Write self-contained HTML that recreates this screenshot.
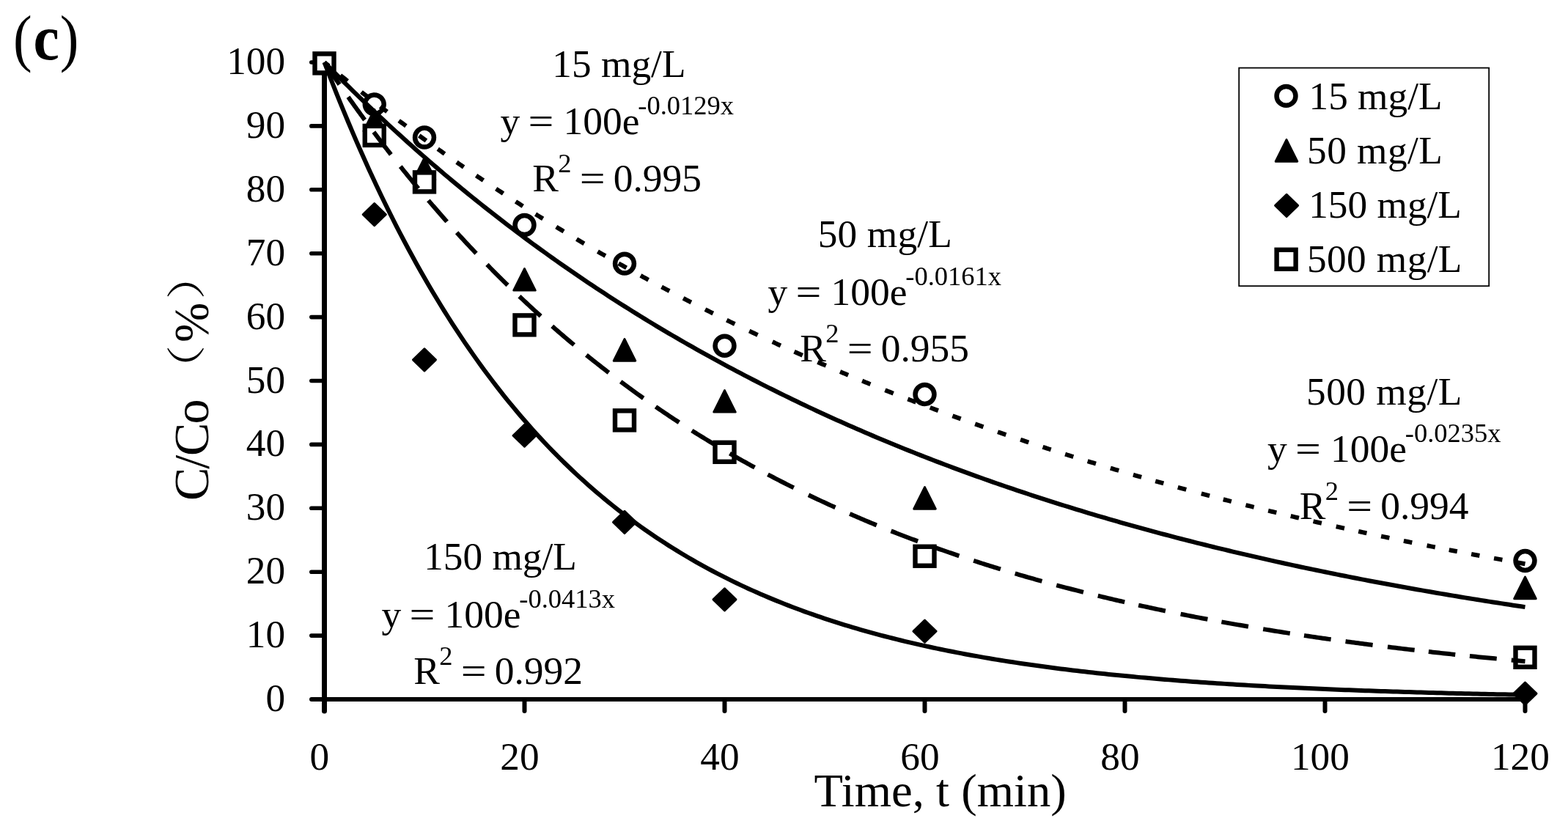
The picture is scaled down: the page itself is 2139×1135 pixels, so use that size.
<!DOCTYPE html>
<html><head><meta charset="utf-8"><title>(c) C/Co vs Time</title>
<style>html,body{margin:0;padding:0;background:#fff;overflow:hidden;width:2139px;height:1135px}svg{display:block}</style>
</head><body>
<svg width="2139" height="1135" viewBox="0 0 2139 1135">
<rect width="2139" height="1135" fill="#fff"/>
<text transform="translate(17.92,81) scale(0.885,1)" font-family="'Liberation Serif', serif" font-size="87">(</text>
<text transform="translate(45.61,81) scale(0.914,1)" font-family="'Liberation Serif', serif" font-size="87" font-weight="bold">c</text>
<text transform="translate(81.69,81) scale(0.885,1)" font-family="'Liberation Serif', serif" font-size="87">)</text>
<line x1="442.5" y1="85.0" x2="442.5" y2="970" stroke="#000" stroke-width="7" stroke-linecap="round"/>
<line x1="425" y1="954.0" x2="2081.5" y2="954.0" stroke="#000" stroke-width="6" stroke-linecap="round"/>
<line x1="424.8" y1="867.10" x2="442.5" y2="867.10" stroke="#000" stroke-width="5.6" stroke-linecap="round"/>
<line x1="424.8" y1="780.20" x2="442.5" y2="780.20" stroke="#000" stroke-width="5.6" stroke-linecap="round"/>
<line x1="424.8" y1="693.30" x2="442.5" y2="693.30" stroke="#000" stroke-width="5.6" stroke-linecap="round"/>
<line x1="424.8" y1="606.40" x2="442.5" y2="606.40" stroke="#000" stroke-width="5.6" stroke-linecap="round"/>
<line x1="424.8" y1="519.50" x2="442.5" y2="519.50" stroke="#000" stroke-width="5.6" stroke-linecap="round"/>
<line x1="424.8" y1="432.60" x2="442.5" y2="432.60" stroke="#000" stroke-width="5.6" stroke-linecap="round"/>
<line x1="424.8" y1="345.70" x2="442.5" y2="345.70" stroke="#000" stroke-width="5.6" stroke-linecap="round"/>
<line x1="424.8" y1="258.80" x2="442.5" y2="258.80" stroke="#000" stroke-width="5.6" stroke-linecap="round"/>
<line x1="424.8" y1="171.90" x2="442.5" y2="171.90" stroke="#000" stroke-width="5.6" stroke-linecap="round"/>
<line x1="424.8" y1="85.00" x2="442.5" y2="85.00" stroke="#000" stroke-width="5.6" stroke-linecap="round"/>
<line x1="715.50" y1="954.0" x2="715.50" y2="970" stroke="#000" stroke-width="6" stroke-linecap="round"/>
<line x1="988.50" y1="954.0" x2="988.50" y2="970" stroke="#000" stroke-width="6" stroke-linecap="round"/>
<line x1="1261.50" y1="954.0" x2="1261.50" y2="970" stroke="#000" stroke-width="6" stroke-linecap="round"/>
<line x1="1534.50" y1="954.0" x2="1534.50" y2="970" stroke="#000" stroke-width="6" stroke-linecap="round"/>
<line x1="1807.50" y1="954.0" x2="1807.50" y2="970" stroke="#000" stroke-width="6" stroke-linecap="round"/>
<line x1="2080.50" y1="954.0" x2="2080.50" y2="970" stroke="#000" stroke-width="6" stroke-linecap="round"/>
<circle cx="510.75" cy="142.35" r="12.95" fill="none" stroke="#000" stroke-width="6.5"/>
<circle cx="579.00" cy="187.54" r="12.95" fill="none" stroke="#000" stroke-width="6.5"/>
<circle cx="715.50" cy="307.03" r="12.95" fill="none" stroke="#000" stroke-width="6.5"/>
<circle cx="852.00" cy="359.60" r="12.95" fill="none" stroke="#000" stroke-width="6.5"/>
<circle cx="988.50" cy="471.70" r="12.95" fill="none" stroke="#000" stroke-width="6.5"/>
<circle cx="1261.50" cy="538.01" r="12.95" fill="none" stroke="#000" stroke-width="6.5"/>
<circle cx="2080.50" cy="764.99" r="12.95" fill="none" stroke="#000" stroke-width="6.5"/>
<polygon points="510.75,149.33 525.50,178.83 496.00,178.83" fill="#000" stroke="#000" stroke-width="3" stroke-linejoin="round"/>
<polygon points="579.00,215.37 593.75,244.87 564.25,244.87" fill="#000" stroke="#000" stroke-width="3" stroke-linejoin="round"/>
<polygon points="715.50,366.58 730.25,396.08 700.75,396.08" fill="#000" stroke="#000" stroke-width="3" stroke-linejoin="round"/>
<polygon points="852.00,462.69 866.75,492.19 837.25,492.19" fill="#000" stroke="#000" stroke-width="3" stroke-linejoin="round"/>
<polygon points="988.50,532.56 1003.25,562.06 973.75,562.06" fill="#000" stroke="#000" stroke-width="3" stroke-linejoin="round"/>
<polygon points="1261.50,664.65 1276.25,694.15 1246.75,694.15" fill="#000" stroke="#000" stroke-width="3" stroke-linejoin="round"/>
<polygon points="2080.50,787.17 2095.25,816.67 2065.75,816.67" fill="#000" stroke="#000" stroke-width="3" stroke-linejoin="round"/>
<polygon points="510.75,277.69 526.25,292.69 510.75,307.69 495.25,292.69" fill="#000" stroke="#000" stroke-width="3" stroke-linejoin="round"/>
<polygon points="579.00,475.82 594.50,490.82 579.00,505.82 563.50,490.82" fill="#000" stroke="#000" stroke-width="3" stroke-linejoin="round"/>
<polygon points="715.50,579.23 731.00,594.23 715.50,609.23 700.00,594.23" fill="#000" stroke="#000" stroke-width="3" stroke-linejoin="round"/>
<polygon points="852.00,697.42 867.50,712.42 852.00,727.42 836.50,712.42" fill="#000" stroke="#000" stroke-width="3" stroke-linejoin="round"/>
<polygon points="988.50,802.83 1004.00,817.83 988.50,832.83 973.00,817.83" fill="#000" stroke="#000" stroke-width="3" stroke-linejoin="round"/>
<polygon points="1261.50,846.19 1277.00,861.19 1261.50,876.19 1246.00,861.19" fill="#000" stroke="#000" stroke-width="3" stroke-linejoin="round"/>
<polygon points="2080.50,931.18 2096.00,946.18 2080.50,961.18 2065.00,946.18" fill="#000" stroke="#000" stroke-width="3" stroke-linejoin="round"/>
<rect x="429.50" y="73.39" width="26.0" height="26.0" fill="#fff" stroke="#000" stroke-width="6.4"/>
<rect x="497.75" y="171.93" width="26.0" height="26.0" fill="#fff" stroke="#000" stroke-width="6.4"/>
<rect x="566.00" y="235.37" width="26.0" height="26.0" fill="#fff" stroke="#000" stroke-width="6.4"/>
<rect x="702.50" y="430.38" width="26.0" height="26.0" fill="#fff" stroke="#000" stroke-width="6.4"/>
<rect x="839.00" y="560.38" width="26.0" height="26.0" fill="#fff" stroke="#000" stroke-width="6.4"/>
<rect x="975.50" y="603.83" width="26.0" height="26.0" fill="#fff" stroke="#000" stroke-width="6.4"/>
<rect x="1248.50" y="745.74" width="26.0" height="26.0" fill="#fff" stroke="#000" stroke-width="6.4"/>
<rect x="2067.50" y="883.82" width="26.0" height="26.0" fill="#fff" stroke="#000" stroke-width="6.4"/>
<path d="M442.50,85.00 L444.58,86.71 L446.66,88.41 L448.75,90.12 M464.32,102.74 L466.28,104.31 L468.24,105.88 L470.20,107.45 L472.16,109.02 L474.12,110.59 M493.00,125.50 L494.97,127.04 L496.95,128.58 L498.93,130.13 L500.91,131.67 L502.89,133.20 M518.71,145.39 L521.04,147.17 L523.37,148.94 L525.70,150.71 L528.04,152.48 M544.18,164.62 L546.12,166.06 L548.06,167.51 L550.00,168.95 L551.95,170.39 L553.89,171.83 M571.79,184.95 L574.20,186.70 L576.61,188.45 L579.03,190.19 L581.44,191.93 M597.24,203.23 L599.58,204.88 L601.91,206.53 L604.25,208.18 L606.59,209.83 M623.03,221.30 L625.43,222.96 L627.83,224.62 L630.23,226.27 L632.63,227.92 M649.62,239.49 L652.07,241.14 L654.53,242.79 L656.98,244.44 L659.44,246.08 M676.70,257.54 L679.15,259.15 L681.61,260.76 L684.07,262.37 L686.53,263.98 M703.46,274.93 L705.93,276.51 L708.39,278.09 L710.86,279.66 L713.32,281.23 M730.56,292.11 L733.10,293.69 L735.63,295.26 L738.16,296.84 L740.70,298.41 M758.80,309.53 L761.36,311.09 L763.92,312.64 L766.48,314.19 L769.04,315.74 M786.55,326.21 L788.61,327.44 L790.68,328.66 L792.76,329.89 L794.83,331.11 L796.90,332.33 M815.43,343.12 L817.52,344.32 L819.62,345.53 L821.72,346.74 L823.82,347.94 L825.92,349.14 M843.86,359.31 L846.00,360.51 L848.13,361.71 L850.27,362.91 L852.41,364.10 L854.55,365.29 M873.89,375.95 L876.03,377.12 L878.17,378.29 L880.31,379.45 L882.46,380.61 L884.60,381.77 M902.57,391.41 L904.69,392.54 L906.82,393.66 L908.95,394.79 L911.07,395.91 L913.20,397.03 M932.07,406.88 L934.24,408.00 L936.41,409.12 L938.58,410.23 L940.75,411.35 L942.93,412.46 M961.96,422.11 L964.12,423.20 L966.29,424.29 L968.46,425.37 L970.62,426.45 L972.79,427.53 M991.36,436.69 L993.57,437.77 L995.77,438.84 L997.98,439.92 L1000.19,440.99 L1002.40,442.06 M1022.20,451.55 L1024.48,452.63 L1026.76,453.71 L1029.04,454.79 L1031.32,455.86 L1033.60,456.94 M1053.77,466.32 L1056.01,467.35 L1058.24,468.38 L1060.48,469.40 L1062.71,470.43 L1064.95,471.45 M1083.52,479.84 L1085.78,480.85 L1088.03,481.86 L1090.28,482.86 L1092.54,483.86 L1094.79,484.86 M1115.42,493.92 L1117.69,494.91 L1119.97,495.90 L1122.25,496.88 L1124.53,497.87 L1126.81,498.85 M1146.03,507.04 L1148.24,507.97 L1150.45,508.90 L1152.67,509.83 L1154.88,510.76 L1157.10,511.69 M1176.16,519.59 L1178.41,520.51 L1180.65,521.43 L1182.89,522.34 L1185.14,523.26 L1187.38,524.17 M1207.36,532.21 L1209.63,533.11 L1211.90,534.01 L1214.17,534.91 L1216.44,535.81 L1218.71,536.71 M1238.36,544.39 L1241.16,545.47 L1243.96,546.55 L1246.75,547.62 L1249.55,548.70 M1268.77,555.99 L1271.56,557.04 L1274.34,558.08 L1277.13,559.12 L1279.91,560.16 M1299.41,567.35 L1302.22,568.38 L1305.02,569.40 L1307.83,570.41 L1310.63,571.43 M1330.18,578.43 L1332.99,579.43 L1335.81,580.42 L1338.62,581.42 L1341.43,582.41 M1361.05,589.23 L1363.87,590.20 L1366.69,591.17 L1369.51,592.14 L1372.34,593.10 M1392.07,599.77 L1394.87,600.70 L1397.67,601.64 L1400.47,602.57 L1403.27,603.50 M1422.51,609.81 L1425.29,610.72 L1428.07,611.62 L1430.85,612.52 L1433.64,613.42 M1453.07,619.61 L1455.86,620.49 L1458.65,621.37 L1461.45,622.25 L1464.24,623.13 M1483.67,629.14 L1486.49,630.01 L1489.32,630.87 L1492.14,631.73 L1494.96,632.59 M1514.86,638.58 L1517.69,639.42 L1520.53,640.27 L1523.37,641.11 L1526.21,641.95 M1545.95,647.71 L1548.74,648.52 L1551.54,649.33 L1554.33,650.13 L1557.12,650.93 M1576.18,656.34 L1578.96,657.12 L1581.74,657.90 L1584.52,658.68 L1587.31,659.45 M1606.77,664.82 L1609.63,665.60 L1612.49,666.38 L1615.36,667.16 L1618.22,667.93 M1638.83,673.45 L1641.65,674.20 L1644.47,674.94 L1647.29,675.69 L1650.11,676.43 M1668.75,681.27 L1671.51,681.99 L1674.28,682.69 L1677.04,683.40 L1679.80,684.11 M1699.41,689.06 L1702.21,689.76 L1705.01,690.46 L1707.81,691.16 L1710.62,691.85 M1730.10,696.64 L1732.90,697.32 L1735.70,697.99 L1738.50,698.67 L1741.30,699.35 M1760.73,703.98 L1763.53,704.64 L1766.34,705.30 L1769.15,705.96 L1771.95,706.62 M1791.57,711.16 L1794.39,711.81 L1797.22,712.45 L1800.05,713.10 L1802.88,713.74 M1822.72,718.21 L1825.53,718.83 L1828.34,719.46 L1831.16,720.08 L1833.97,720.70 M1853.22,724.91 L1856.02,725.51 L1858.83,726.12 L1861.63,726.72 L1864.43,727.32 M1884.10,731.49 L1886.92,732.09 L1889.74,732.68 L1892.55,733.27 L1895.37,733.85 M1914.89,737.88 L1917.74,738.46 L1920.59,739.04 L1923.44,739.61 L1926.28,740.19 M1946.53,744.24 L1949.35,744.80 L1952.16,745.36 L1954.98,745.91 L1957.79,746.46 M1976.77,750.15 L1979.53,750.68 L1982.30,751.21 L1985.06,751.74 L1987.83,752.27 M2007.15,755.92 L2009.96,756.45 L2012.76,756.97 L2015.56,757.49 L2018.37,758.01 M2038.06,761.62 L2040.90,762.14 L2043.74,762.65 L2046.58,763.17 L2049.43,763.68 M2069.33,767.23 L2072.12,767.72 L2074.92,768.21 L2077.71,768.70 L2080.50,769.19" fill="none" stroke="#000" stroke-width="6"/>
<path d="M442.50,85.00 L447.96,90.58 L453.42,96.12 L458.88,101.63 L464.34,107.10 L469.80,112.54 L475.26,117.94 L480.72,123.30 L486.18,128.64 L491.64,133.94 L497.10,139.20 L502.56,144.43 L508.02,149.63 L513.48,154.79 L518.94,159.92 L524.40,165.02 L529.86,170.08 L535.32,175.12 L540.78,180.12 L546.24,185.08 L551.70,190.02 L557.16,194.92 L562.62,199.80 L568.08,204.64 L573.54,209.45 L579.00,214.23 L584.46,218.98 L589.92,223.69 L595.38,228.38 L600.84,233.04 L606.30,237.67 L611.76,242.27 L617.22,246.84 L622.68,251.38 L628.14,255.89 L633.60,260.37 L639.06,264.82 L644.52,269.24 L649.98,273.64 L655.44,278.01 L660.90,282.35 L666.36,286.66 L671.82,290.94 L677.28,295.20 L682.74,299.43 L688.20,303.63 L693.66,307.80 L699.12,311.95 L704.58,316.07 L710.04,320.17 L715.50,324.24 L720.96,328.28 L726.42,332.30 L731.88,336.29 L737.34,340.25 L742.80,344.19 L748.26,348.11 L753.72,352.00 L759.18,355.86 L764.64,359.70 L770.10,363.52 L775.56,367.31 L781.02,371.07 L786.48,374.81 L791.94,378.53 L797.40,382.23 L802.86,385.90 L808.32,389.54 L813.78,393.17 L819.24,396.77 L824.70,400.34 L830.16,403.90 L835.62,407.43 L841.08,410.94 L846.54,414.42 L852.00,417.89 L857.46,421.33 L862.92,424.75 L868.38,428.15 L873.84,431.52 L879.30,434.88 L884.76,438.21 L890.22,441.52 L895.68,444.81 L901.14,448.08 L906.60,451.33 L912.06,454.55 L917.52,457.76 L922.98,460.94 L928.44,464.11 L933.90,467.25 L939.36,470.38 L944.82,473.48 L950.28,476.57 L955.74,479.63 L961.20,482.68 L966.66,485.70 L972.12,488.71 L977.58,491.70 L983.04,494.66 L988.50,497.61 L993.96,500.54 L999.42,503.45 L1004.88,506.34 L1010.34,509.22 L1015.80,512.07 L1021.26,514.91 L1026.72,517.73 L1032.18,520.53 L1037.64,523.31 L1043.10,526.08 L1048.56,528.82 L1054.02,531.55 L1059.48,534.27 L1064.94,536.96 L1070.40,539.64 L1075.86,542.30 L1081.32,544.94 L1086.78,547.57 L1092.24,550.17 L1097.70,552.77 L1103.16,555.34 L1108.62,557.90 L1114.08,560.44 L1119.54,562.97 L1125.00,565.48 L1130.46,567.97 L1135.92,570.45 L1141.38,572.91 L1146.84,575.36 L1152.30,577.79 L1157.76,580.21 L1163.22,582.61 L1168.68,584.99 L1174.14,587.36 L1179.60,589.71 L1185.06,592.05 L1190.52,594.37 L1195.98,596.68 L1201.44,598.98 L1206.90,601.26 L1212.36,603.52 L1217.82,605.77 L1223.28,608.01 L1228.74,610.23 L1234.20,612.43 L1239.66,614.63 L1245.12,616.80 L1250.58,618.97 L1256.04,621.12 L1261.50,623.26 L1266.96,625.38 L1272.42,627.49 L1277.88,629.59 L1283.34,631.67 L1288.80,633.74 L1294.26,635.79 L1299.72,637.84 L1305.18,639.86 L1310.64,641.88 L1316.10,643.89 L1321.56,645.88 L1327.02,647.85 L1332.48,649.82 L1337.94,651.77 L1343.40,653.71 L1348.86,655.64 L1354.32,657.55 L1359.78,659.46 L1365.24,661.35 L1370.70,663.23 L1376.16,665.09 L1381.62,666.95 L1387.08,668.79 L1392.54,670.62 L1398.00,672.44 L1403.46,674.25 L1408.92,676.04 L1414.38,677.83 L1419.84,679.60 L1425.30,681.36 L1430.76,683.11 L1436.22,684.85 L1441.68,686.58 L1447.14,688.30 L1452.60,690.00 L1458.06,691.70 L1463.52,693.38 L1468.98,695.05 L1474.44,696.72 L1479.90,698.37 L1485.36,700.01 L1490.82,701.64 L1496.28,703.26 L1501.74,704.87 L1507.20,706.47 L1512.66,708.06 L1518.12,709.63 L1523.58,711.20 L1529.04,712.76 L1534.50,714.31 L1539.96,715.85 L1545.42,717.38 L1550.88,718.90 L1556.34,720.41 L1561.80,721.91 L1567.26,723.40 L1572.72,724.88 L1578.18,726.35 L1583.64,727.81 L1589.10,729.26 L1594.56,730.70 L1600.02,732.14 L1605.48,733.56 L1610.94,734.98 L1616.40,736.38 L1621.86,737.78 L1627.32,739.17 L1632.78,740.55 L1638.24,741.92 L1643.70,743.28 L1649.16,744.63 L1654.62,745.97 L1660.08,747.31 L1665.54,748.64 L1671.00,749.95 L1676.46,751.26 L1681.92,752.57 L1687.38,753.86 L1692.84,755.14 L1698.30,756.42 L1703.76,757.69 L1709.22,758.95 L1714.68,760.20 L1720.14,761.44 L1725.60,762.68 L1731.06,763.91 L1736.52,765.13 L1741.98,766.34 L1747.44,767.55 L1752.90,768.74 L1758.36,769.93 L1763.82,771.11 L1769.28,772.29 L1774.74,773.45 L1780.20,774.61 L1785.66,775.76 L1791.12,776.91 L1796.58,778.05 L1802.04,779.18 L1807.50,780.30 L1812.96,781.41 L1818.42,782.52 L1823.88,783.62 L1829.34,784.72 L1834.80,785.80 L1840.26,786.88 L1845.72,787.95 L1851.18,789.02 L1856.64,790.08 L1862.10,791.13 L1867.56,792.18 L1873.02,793.22 L1878.48,794.25 L1883.94,795.27 L1889.40,796.29 L1894.86,797.30 L1900.32,798.31 L1905.78,799.31 L1911.24,800.30 L1916.70,801.29 L1922.16,802.27 L1927.62,803.24 L1933.08,804.21 L1938.54,805.17 L1944.00,806.13 L1949.46,807.08 L1954.92,808.02 L1960.38,808.96 L1965.84,809.89 L1971.30,810.81 L1976.76,811.73 L1982.22,812.65 L1987.68,813.55 L1993.14,814.46 L1998.60,815.35 L2004.06,816.24 L2009.52,817.13 L2014.98,818.00 L2020.44,818.88 L2025.90,819.74 L2031.36,820.61 L2036.82,821.46 L2042.28,822.31 L2047.74,823.16 L2053.20,824.00 L2058.66,824.83 L2064.12,825.66 L2069.58,826.49 L2075.04,827.30 L2080.50,828.12" fill="none" stroke="#000" stroke-width="6"/>
<path d="M442.50,85.00 L447.96,99.24 L453.42,113.24 L458.88,127.02 L464.34,140.57 L469.80,153.89 L475.26,167.00 L480.72,179.90 L486.18,192.58 L491.64,205.06 L497.10,217.33 L502.56,229.40 L508.02,241.27 L513.48,252.95 L518.94,264.43 L524.40,275.73 L529.86,286.84 L535.32,297.78 L540.78,308.53 L546.24,319.10 L551.70,329.51 L557.16,339.74 L562.62,349.80 L568.08,359.70 L573.54,369.44 L579.00,379.02 L584.46,388.44 L589.92,397.70 L595.38,406.82 L600.84,415.78 L606.30,424.60 L611.76,433.27 L617.22,441.81 L622.68,450.20 L628.14,458.45 L633.60,466.57 L639.06,474.56 L644.52,482.41 L649.98,490.14 L655.44,497.74 L660.90,505.22 L666.36,512.57 L671.82,519.80 L677.28,526.91 L682.74,533.91 L688.20,540.80 L693.66,547.57 L699.12,554.22 L704.58,560.77 L710.04,567.22 L715.50,573.55 L720.96,579.79 L726.42,585.92 L731.88,591.95 L737.34,597.88 L742.80,603.72 L748.26,609.46 L753.72,615.10 L759.18,620.65 L764.64,626.11 L770.10,631.49 L775.56,636.77 L781.02,641.97 L786.48,647.08 L791.94,652.11 L797.40,657.06 L802.86,661.92 L808.32,666.71 L813.78,671.41 L819.24,676.04 L824.70,680.60 L830.16,685.08 L835.62,689.48 L841.08,693.82 L846.54,698.08 L852.00,702.27 L857.46,706.40 L862.92,710.45 L868.38,714.44 L873.84,718.37 L879.30,722.23 L884.76,726.03 L890.22,729.76 L895.68,733.44 L901.14,737.05 L906.60,740.61 L912.06,744.10 L917.52,747.54 L922.98,750.92 L928.44,754.25 L933.90,757.52 L939.36,760.74 L944.82,763.91 L950.28,767.02 L955.74,770.09 L961.20,773.10 L966.66,776.06 L972.12,778.98 L977.58,781.85 L983.04,784.67 L988.50,787.44 L993.96,790.17 L999.42,792.86 L1004.88,795.50 L1010.34,798.09 L1015.80,800.65 L1021.26,803.16 L1026.72,805.63 L1032.18,808.06 L1037.64,810.45 L1043.10,812.80 L1048.56,815.12 L1054.02,817.39 L1059.48,819.63 L1064.94,821.83 L1070.40,824.00 L1075.86,826.13 L1081.32,828.22 L1086.78,830.28 L1092.24,832.31 L1097.70,834.31 L1103.16,836.27 L1108.62,838.20 L1114.08,840.09 L1119.54,841.96 L1125.00,843.79 L1130.46,845.60 L1135.92,847.38 L1141.38,849.12 L1146.84,850.84 L1152.30,852.53 L1157.76,854.19 L1163.22,855.83 L1168.68,857.44 L1174.14,859.02 L1179.60,860.58 L1185.06,862.11 L1190.52,863.61 L1195.98,865.09 L1201.44,866.55 L1206.90,867.98 L1212.36,869.39 L1217.82,870.78 L1223.28,872.14 L1228.74,873.48 L1234.20,874.80 L1239.66,876.10 L1245.12,877.38 L1250.58,878.63 L1256.04,879.87 L1261.50,881.08 L1266.96,882.28 L1272.42,883.45 L1277.88,884.61 L1283.34,885.74 L1288.80,886.86 L1294.26,887.96 L1299.72,889.04 L1305.18,890.11 L1310.64,891.16 L1316.10,892.19 L1321.56,893.20 L1327.02,894.19 L1332.48,895.17 L1337.94,896.14 L1343.40,897.09 L1348.86,898.02 L1354.32,898.94 L1359.78,899.84 L1365.24,900.73 L1370.70,901.60 L1376.16,902.46 L1381.62,903.30 L1387.08,904.13 L1392.54,904.95 L1398.00,905.75 L1403.46,906.54 L1408.92,907.32 L1414.38,908.09 L1419.84,908.84 L1425.30,909.58 L1430.76,910.31 L1436.22,911.02 L1441.68,911.73 L1447.14,912.42 L1452.60,913.10 L1458.06,913.77 L1463.52,914.43 L1468.98,915.08 L1474.44,915.71 L1479.90,916.34 L1485.36,916.96 L1490.82,917.57 L1496.28,918.16 L1501.74,918.75 L1507.20,919.33 L1512.66,919.90 L1518.12,920.45 L1523.58,921.00 L1529.04,921.54 L1534.50,922.08 L1539.96,922.60 L1545.42,923.11 L1550.88,923.62 L1556.34,924.12 L1561.80,924.61 L1567.26,925.09 L1572.72,925.56 L1578.18,926.03 L1583.64,926.49 L1589.10,926.94 L1594.56,927.38 L1600.02,927.82 L1605.48,928.25 L1610.94,928.67 L1616.40,929.08 L1621.86,929.49 L1627.32,929.89 L1632.78,930.29 L1638.24,930.68 L1643.70,931.06 L1649.16,931.43 L1654.62,931.80 L1660.08,932.17 L1665.54,932.53 L1671.00,932.88 L1676.46,933.22 L1681.92,933.56 L1687.38,933.90 L1692.84,934.23 L1698.30,934.55 L1703.76,934.87 L1709.22,935.18 L1714.68,935.49 L1720.14,935.80 L1725.60,936.09 L1731.06,936.39 L1736.52,936.68 L1741.98,936.96 L1747.44,937.24 L1752.90,937.51 L1758.36,937.78 L1763.82,938.05 L1769.28,938.31 L1774.74,938.57 L1780.20,938.82 L1785.66,939.07 L1791.12,939.31 L1796.58,939.55 L1802.04,939.79 L1807.50,940.02 L1812.96,940.25 L1818.42,940.48 L1823.88,940.70 L1829.34,940.92 L1834.80,941.13 L1840.26,941.34 L1845.72,941.55 L1851.18,941.75 L1856.64,941.95 L1862.10,942.15 L1867.56,942.35 L1873.02,942.54 L1878.48,942.73 L1883.94,942.91 L1889.40,943.09 L1894.86,943.27 L1900.32,943.45 L1905.78,943.62 L1911.24,943.79 L1916.70,943.96 L1922.16,944.12 L1927.62,944.28 L1933.08,944.44 L1938.54,944.60 L1944.00,944.75 L1949.46,944.90 L1954.92,945.05 L1960.38,945.20 L1965.84,945.34 L1971.30,945.49 L1976.76,945.63 L1982.22,945.76 L1987.68,945.90 L1993.14,946.03 L1998.60,946.16 L2004.06,946.29 L2009.52,946.42 L2014.98,946.54 L2020.44,946.66 L2025.90,946.78 L2031.36,946.90 L2036.82,947.02 L2042.28,947.13 L2047.74,947.24 L2053.20,947.35 L2058.66,947.46 L2064.12,947.57 L2069.58,947.68 L2075.04,947.78 L2080.50,947.88" fill="none" stroke="#000" stroke-width="6"/>
<path d="M442.50,85.00 L444.06,87.34 L445.63,89.67 L447.20,92.00 L448.77,94.33 L450.35,96.66 L451.92,98.98 L453.50,101.31 L455.09,103.63 L456.67,105.95 L458.26,108.27 L459.86,110.58 L461.45,112.90 L463.05,115.21 M475.02,132.31 L476.73,134.73 L478.45,137.15 L480.17,139.57 L481.90,141.99 L483.62,144.40 L485.36,146.81 L487.09,149.22 L488.83,151.62 L490.57,154.02 L492.32,156.42 L494.07,158.82 L495.82,161.22 L497.57,163.61 M509.87,180.16 L511.65,182.54 L513.44,184.91 L515.23,187.27 L517.02,189.64 L518.82,192.00 L520.62,194.36 L522.43,196.71 L524.23,199.07 L526.04,201.42 L527.86,203.76 L529.68,206.11 L531.50,208.45 L533.33,210.79 M546.24,227.13 L548.10,229.46 L549.97,231.78 L551.84,234.11 L553.71,236.43 L555.59,238.74 L557.47,241.06 L559.36,243.37 L561.25,245.67 L563.14,247.98 L565.04,250.28 L566.94,252.58 L568.84,254.88 L570.75,257.17 M584.39,273.34 L586.32,275.59 L588.25,277.84 L590.18,280.09 L592.11,282.33 L594.05,284.57 L596.00,286.81 L597.94,289.04 L599.89,291.27 L601.85,293.49 L603.81,295.72 L605.77,297.94 L607.73,300.15 L609.70,302.37 M623.14,317.26 L625.15,319.46 L627.16,321.66 L629.18,323.86 L631.21,326.05 L633.23,328.24 L635.26,330.42 L637.30,332.60 L639.34,334.78 L641.38,336.95 L643.43,339.12 L645.48,341.29 L647.53,343.45 L649.59,345.61 M664.41,360.94 L666.40,362.97 L668.39,364.99 L670.39,367.01 L672.39,369.03 L674.39,371.04 L676.40,373.06 L678.41,375.06 L680.43,377.07 L682.44,379.07 L684.47,381.07 L686.49,383.06 L688.52,385.05 L690.55,387.04 L692.59,389.02 M708.51,404.30 L710.57,406.24 L712.63,408.19 L714.70,410.13 L716.77,412.06 L718.85,413.99 L720.92,415.92 L723.01,417.85 L725.09,419.77 L727.18,421.68 L729.27,423.60 L731.36,425.51 L733.46,427.41 L735.56,429.31 L737.67,431.21 M753.21,445.01 L755.32,446.86 L757.44,448.71 L759.56,450.55 L761.69,452.39 L763.82,454.23 L765.95,456.06 L768.09,457.89 L770.23,459.71 L772.37,461.53 L774.52,463.35 L776.67,465.16 L778.82,466.97 L780.97,468.77 L783.13,470.57 M799.87,484.30 L802.20,486.19 L804.54,488.06 L806.88,489.93 L809.22,491.80 L811.56,493.66 L813.91,495.52 L816.27,497.37 L818.62,499.22 L820.98,501.07 L823.35,502.91 L825.71,504.74 L828.08,506.57 L830.46,508.40 M846.72,520.70 L849.08,522.46 L851.45,524.21 L853.82,525.96 L856.19,527.70 L858.56,529.44 L860.94,531.18 L863.33,532.91 L865.71,534.64 L868.10,536.36 L870.49,538.08 L872.89,539.79 L875.29,541.50 L877.69,543.20 M894.47,554.89 L896.91,556.56 L899.35,558.23 L901.79,559.89 L904.24,561.55 L906.69,563.20 L909.14,564.85 L911.60,566.49 L914.06,568.13 L916.52,569.76 L918.99,571.39 L921.46,573.01 L923.93,574.63 L926.40,576.24 M943.85,587.42 L946.39,589.02 L948.93,590.61 L951.47,592.20 L954.01,593.78 L956.56,595.35 L959.11,596.92 L961.66,598.49 L964.22,600.05 L966.77,601.61 L969.34,603.16 L971.90,604.70 L974.47,606.25 L977.04,607.78 M995.51,618.62 L997.93,620.01 L1000.35,621.40 L1002.77,622.78 L1005.19,624.16 L1007.62,625.53 L1010.04,626.90 L1012.48,628.27 L1014.91,629.63 L1017.34,630.99 L1019.78,632.34 L1022.22,633.69 L1024.66,635.03 L1027.11,636.37 L1029.56,637.71 M1047.48,647.32 L1049.99,648.64 L1052.50,649.96 L1055.01,651.27 L1057.53,652.58 L1060.05,653.88 L1062.57,655.18 L1065.09,656.48 L1067.61,657.77 L1070.14,659.05 L1072.67,660.33 L1075.20,661.61 L1077.73,662.88 L1080.26,664.15 L1082.80,665.41 M1102.94,675.25 L1105.53,676.49 L1108.13,677.73 L1110.73,678.96 L1113.34,680.19 L1115.94,681.42 L1118.55,682.64 L1121.16,683.85 L1123.77,685.07 L1126.38,686.27 L1129.00,687.48 L1131.61,688.67 L1134.23,689.87 L1136.85,691.06 L1139.48,692.24 M1159.20,700.98 L1161.81,702.11 L1164.41,703.24 L1167.02,704.37 L1169.63,705.48 L1172.24,706.60 L1174.85,707.71 L1177.47,708.82 L1180.09,709.92 L1182.70,711.02 L1185.32,712.11 L1187.95,713.20 L1190.57,714.28 L1193.19,715.36 L1195.82,716.44 M1215.52,724.36 L1218.12,725.39 L1220.73,726.41 L1223.34,727.43 L1225.94,728.45 L1228.55,729.46 L1231.17,730.47 L1233.78,731.47 L1236.40,732.47 L1239.01,733.46 L1241.63,734.46 L1244.25,735.44 L1246.87,736.43 L1249.49,737.41 L1252.12,738.38 M1271.75,745.55 L1274.56,746.56 L1277.37,747.56 L1280.19,748.56 L1283.00,749.55 L1285.82,750.54 L1288.64,751.52 L1291.45,752.50 L1294.28,753.48 L1297.10,754.45 L1299.92,755.42 L1302.75,756.38 L1305.57,757.34 L1308.40,758.30 M1328.19,764.85 L1331.00,765.77 L1333.82,766.68 L1336.64,767.58 L1339.46,768.49 L1342.29,769.39 L1345.11,770.28 L1347.94,771.17 L1350.76,772.06 L1353.59,772.94 L1356.42,773.82 L1359.25,774.70 L1362.08,775.57 L1364.91,776.44 M1384.67,782.38 L1387.49,783.21 L1390.31,784.04 L1393.14,784.86 L1395.96,785.68 L1398.78,786.50 L1401.61,787.31 L1404.44,788.12 L1407.26,788.93 L1410.09,789.73 L1412.92,790.53 L1415.75,791.32 L1418.58,792.11 L1421.42,792.90 M1441.22,798.30 L1444.04,799.05 L1446.86,799.80 L1449.68,800.55 L1452.50,801.29 L1455.32,802.03 L1458.14,802.77 L1460.97,803.50 L1463.79,804.23 L1466.62,804.96 L1469.44,805.68 L1472.27,806.40 L1475.10,807.12 L1477.93,807.83 M1497.78,812.75 L1500.57,813.42 L1503.37,814.10 L1506.16,814.77 L1508.96,815.44 L1511.76,816.10 L1514.55,816.77 L1517.35,817.43 L1520.15,818.08 L1522.95,818.74 L1525.75,819.39 L1528.55,820.03 L1531.35,820.68 L1534.16,821.32 M1553.11,825.58 L1555.93,826.20 L1558.76,826.82 L1561.58,827.44 L1564.40,828.05 L1567.23,828.66 L1570.05,829.27 L1572.88,829.88 L1575.71,830.48 L1578.53,831.08 L1581.36,831.68 L1584.19,832.27 L1587.02,832.86 L1589.85,833.45 M1610.60,837.68 L1613.43,838.25 L1616.25,838.81 L1619.08,839.37 L1621.91,839.92 L1624.74,840.48 L1627.57,841.03 L1630.40,841.58 L1633.23,842.13 L1636.06,842.67 L1638.89,843.21 L1641.72,843.75 L1644.55,844.29 L1647.38,844.82 M1666.37,848.33 L1669.18,848.84 L1671.99,849.35 L1674.80,849.85 L1677.61,850.36 L1680.42,850.86 L1683.23,851.35 L1686.04,851.85 L1688.85,852.34 L1691.67,852.83 L1694.48,853.32 L1697.29,853.81 L1700.11,854.29 L1702.92,854.78 M1723.14,858.17 L1725.95,858.63 L1728.77,859.09 L1731.58,859.55 L1734.40,860.01 L1737.21,860.46 L1740.03,860.92 L1742.85,861.37 L1745.67,861.81 L1748.48,862.26 L1751.30,862.70 L1754.12,863.15 L1756.94,863.59 L1759.76,864.02 M1779.00,866.96 L1781.81,867.38 L1784.63,867.80 L1787.44,868.21 L1790.26,868.63 L1793.07,869.04 L1795.89,869.45 L1798.70,869.86 L1801.52,870.27 L1804.33,870.67 L1807.15,871.07 L1809.97,871.48 L1812.78,871.87 L1815.60,872.27 M1835.53,875.03 L1838.38,875.42 L1841.23,875.80 L1844.08,876.18 L1846.93,876.56 L1849.78,876.94 L1852.63,877.32 L1855.48,877.69 L1858.33,878.07 L1861.18,878.44 L1864.03,878.81 L1866.88,879.18 L1869.73,879.54 L1872.59,879.91 M1892.95,882.46 L1895.77,882.81 L1898.59,883.15 L1901.42,883.50 L1904.24,883.84 L1907.07,884.18 L1909.89,884.52 L1912.72,884.86 L1915.54,885.19 L1918.37,885.52 L1921.19,885.86 L1924.02,886.19 L1926.84,886.52 L1929.67,886.84 M1948.84,889.02 L1951.64,889.34 L1954.44,889.65 L1957.24,889.96 L1960.04,890.27 L1962.84,890.57 L1965.64,890.88 L1968.44,891.18 L1971.25,891.48 L1974.05,891.78 L1976.85,892.08 L1979.65,892.38 L1982.45,892.68 L1985.25,892.97 M2004.94,895.01 L2007.77,895.29 L2010.60,895.58 L2013.44,895.86 L2016.27,896.15 L2019.10,896.43 L2021.93,896.71 L2024.76,896.99 L2027.59,897.26 L2030.42,897.54 L2033.25,897.81 L2036.09,898.09 L2038.92,898.36 L2041.75,898.63 M2061.78,900.51 L2064.45,900.75 L2067.13,901.00 L2069.80,901.24 L2072.48,901.48 L2075.15,901.72 L2077.83,901.96 L2080.50,902.20" fill="none" stroke="#000" stroke-width="6"/>
<text x="389.13" y="970.00" font-family="'Liberation Serif', serif" font-size="53.3" text-anchor="end">0</text>
<text x="389.13" y="883.10" font-family="'Liberation Serif', serif" font-size="53.3" text-anchor="end">10</text>
<text x="389.13" y="796.20" font-family="'Liberation Serif', serif" font-size="53.3" text-anchor="end">20</text>
<text x="389.13" y="709.30" font-family="'Liberation Serif', serif" font-size="53.3" text-anchor="end">30</text>
<text x="389.13" y="622.40" font-family="'Liberation Serif', serif" font-size="53.3" text-anchor="end">40</text>
<text x="389.13" y="535.50" font-family="'Liberation Serif', serif" font-size="53.3" text-anchor="end">50</text>
<text x="389.13" y="448.60" font-family="'Liberation Serif', serif" font-size="53.3" text-anchor="end">60</text>
<text x="389.13" y="361.70" font-family="'Liberation Serif', serif" font-size="53.3" text-anchor="end">70</text>
<text x="389.13" y="274.80" font-family="'Liberation Serif', serif" font-size="53.3" text-anchor="end">80</text>
<text x="389.13" y="187.90" font-family="'Liberation Serif', serif" font-size="53.3" text-anchor="end">90</text>
<text x="389.13" y="101.00" font-family="'Liberation Serif', serif" font-size="53.3" text-anchor="end">100</text>
<text x="435.90" y="1049.5" font-family="'Liberation Serif', serif" font-size="53.3" text-anchor="middle">0</text>
<text x="708.90" y="1049.5" font-family="'Liberation Serif', serif" font-size="53.3" text-anchor="middle">20</text>
<text x="981.90" y="1049.5" font-family="'Liberation Serif', serif" font-size="53.3" text-anchor="middle">40</text>
<text x="1254.90" y="1049.5" font-family="'Liberation Serif', serif" font-size="53.3" text-anchor="middle">60</text>
<text x="1527.90" y="1049.5" font-family="'Liberation Serif', serif" font-size="53.3" text-anchor="middle">80</text>
<text x="1800.90" y="1049.5" font-family="'Liberation Serif', serif" font-size="53.3" text-anchor="middle">100</text>
<text x="2073.90" y="1049.5" font-family="'Liberation Serif', serif" font-size="53.3" text-anchor="middle">120</text>
<text transform="translate(1110.51,1100) scale(0.995,0.975)" font-family="'Liberation Serif', serif" font-size="65">Time, t (min)</text>
<g transform="translate(283.5,680.3) rotate(-90)"><text transform="translate(-2.72,0.00) scale(1.0,1.0)" font-family="'Liberation Serif', serif" font-size="68">C</text><text transform="translate(40.50,0.00) scale(1.0,1.0)" font-family="'Liberation Serif', serif" font-size="68">/</text><text transform="translate(58.38,0.00) scale(1.0,1.0)" font-family="'Liberation Serif', serif" font-size="68">C</text><text transform="translate(101.88,0.00) scale(1.0,1.0)" font-family="'Liberation Serif', serif" font-size="68">o</text><text transform="translate(143.70,-9.1) scale(1,0.806)" font-family="'Liberation Serif', 'Noto Serif CJK SC', serif" font-size="66">（</text><text transform="translate(213.35,0.00) scale(0.985,1.04)" font-family="'Liberation Serif', serif" font-size="66">%</text><text transform="translate(271.50,-9.1) scale(1,0.806)" font-family="'Liberation Serif', 'Noto Serif CJK SC', serif" font-size="66">）</text></g>
<text x="844.40" y="104.50" font-family="'Liberation Serif', serif" font-size="53.3" text-anchor="middle">15 mg/L</text>
<text x="682.47" y="183.30" font-family="'Liberation Serif', serif" font-size="53.5">y</text>
<text transform="translate(720.61,183.30) scale(1.155,1)" font-family="'Liberation Serif', serif" font-size="53.5">=</text>
<text x="768.48" y="183.30" font-family="'Liberation Serif', serif" font-size="53.5">100e</text>
<text x="870.34" y="156.10" font-family="'Liberation Serif', serif" font-size="36.5">-0.0129x</text>
<text x="726.29" y="260.50" font-family="'Liberation Serif', serif" font-size="53.5">R</text>
<text x="761.14" y="234.50" font-family="'Liberation Serif', serif" font-size="36.5">2</text>
<text transform="translate(790.81,260.50) scale(1.155,1)" font-family="'Liberation Serif', serif" font-size="53.5">=</text>
<text x="836.66" y="260.50" font-family="'Liberation Serif', serif" font-size="53.5">0.995</text>
<text x="1207.40" y="337.10" font-family="'Liberation Serif', serif" font-size="53.3" text-anchor="middle" letter-spacing="0.2">50 mg/L</text>
<text x="1047.46" y="415.90" font-family="'Liberation Serif', serif" font-size="53.5">y</text>
<text transform="translate(1085.61,415.90) scale(1.155,1)" font-family="'Liberation Serif', serif" font-size="53.5">=</text>
<text x="1133.48" y="415.90" font-family="'Liberation Serif', serif" font-size="53.5">100e</text>
<text x="1235.34" y="388.70" font-family="'Liberation Serif', serif" font-size="36.5">-0.0161x</text>
<text x="1091.30" y="493.10" font-family="'Liberation Serif', serif" font-size="53.5">R</text>
<text x="1126.14" y="467.10" font-family="'Liberation Serif', serif" font-size="36.5">2</text>
<text transform="translate(1155.81,493.10) scale(1.155,1)" font-family="'Liberation Serif', serif" font-size="53.5">=</text>
<text x="1201.66" y="493.10" font-family="'Liberation Serif', serif" font-size="53.5">0.955</text>
<text x="1888.45" y="551.50" font-family="'Liberation Serif', serif" font-size="53.3" text-anchor="middle" letter-spacing="0.5">500 mg/L</text>
<text x="1728.96" y="630.30" font-family="'Liberation Serif', serif" font-size="53.5">y</text>
<text transform="translate(1767.11,630.30) scale(1.155,1)" font-family="'Liberation Serif', serif" font-size="53.5">=</text>
<text x="1814.98" y="630.30" font-family="'Liberation Serif', serif" font-size="53.5">100e</text>
<text x="1916.84" y="603.10" font-family="'Liberation Serif', serif" font-size="36.5">-0.0235x</text>
<text x="1772.80" y="707.50" font-family="'Liberation Serif', serif" font-size="53.5">R</text>
<text x="1807.64" y="681.50" font-family="'Liberation Serif', serif" font-size="36.5">2</text>
<text transform="translate(1837.31,707.50) scale(1.155,1)" font-family="'Liberation Serif', serif" font-size="53.5">=</text>
<text x="1883.16" y="707.50" font-family="'Liberation Serif', serif" font-size="53.5">0.994</text>
<text x="682.50" y="777.00" font-family="'Liberation Serif', serif" font-size="53.3" text-anchor="middle">150 mg/L</text>
<text x="520.47" y="855.80" font-family="'Liberation Serif', serif" font-size="53.5">y</text>
<text transform="translate(558.61,855.80) scale(1.155,1)" font-family="'Liberation Serif', serif" font-size="53.5">=</text>
<text x="606.48" y="855.80" font-family="'Liberation Serif', serif" font-size="53.5">100e</text>
<text x="708.34" y="828.60" font-family="'Liberation Serif', serif" font-size="36.5">-0.0413x</text>
<text x="564.29" y="933.00" font-family="'Liberation Serif', serif" font-size="53.5">R</text>
<text x="599.14" y="907.00" font-family="'Liberation Serif', serif" font-size="36.5">2</text>
<text transform="translate(628.81,933.00) scale(1.155,1)" font-family="'Liberation Serif', serif" font-size="53.5">=</text>
<text x="674.66" y="933.00" font-family="'Liberation Serif', serif" font-size="53.5">0.992</text>
<rect x="1690.2" y="92.6" width="341" height="297.6" fill="#fff" stroke="#000" stroke-width="1.8"/>
<circle cx="1754.50" cy="130.90" r="12.95" fill="#fff" stroke="#000" stroke-width="6.5"/>
<polygon points="1755.00,190.65 1769.75,220.15 1740.25,220.15" fill="#000" stroke="#000" stroke-width="3" stroke-linejoin="round"/>
<polygon points="1755.10,265.30 1770.60,280.30 1755.10,295.30 1739.60,280.30" fill="#000" stroke="#000" stroke-width="3" stroke-linejoin="round"/>
<rect x="1741.60" y="340.80" width="26.0" height="26.0" fill="#fff" stroke="#000" stroke-width="6.4"/>
<text x="1785.50" y="149.00" font-family="'Liberation Serif', serif" font-size="53.3">15 mg/L</text>
<text x="1783.10" y="222.70" font-family="'Liberation Serif', serif" font-size="53.3" letter-spacing="0.45">50 mg/L</text>
<text x="1785.20" y="297.00" font-family="'Liberation Serif', serif" font-size="53.3">150 mg/L</text>
<text x="1783.00" y="370.50" font-family="'Liberation Serif', serif" font-size="53.3" letter-spacing="0.38">500 mg/L</text>
</svg>
</body></html>
